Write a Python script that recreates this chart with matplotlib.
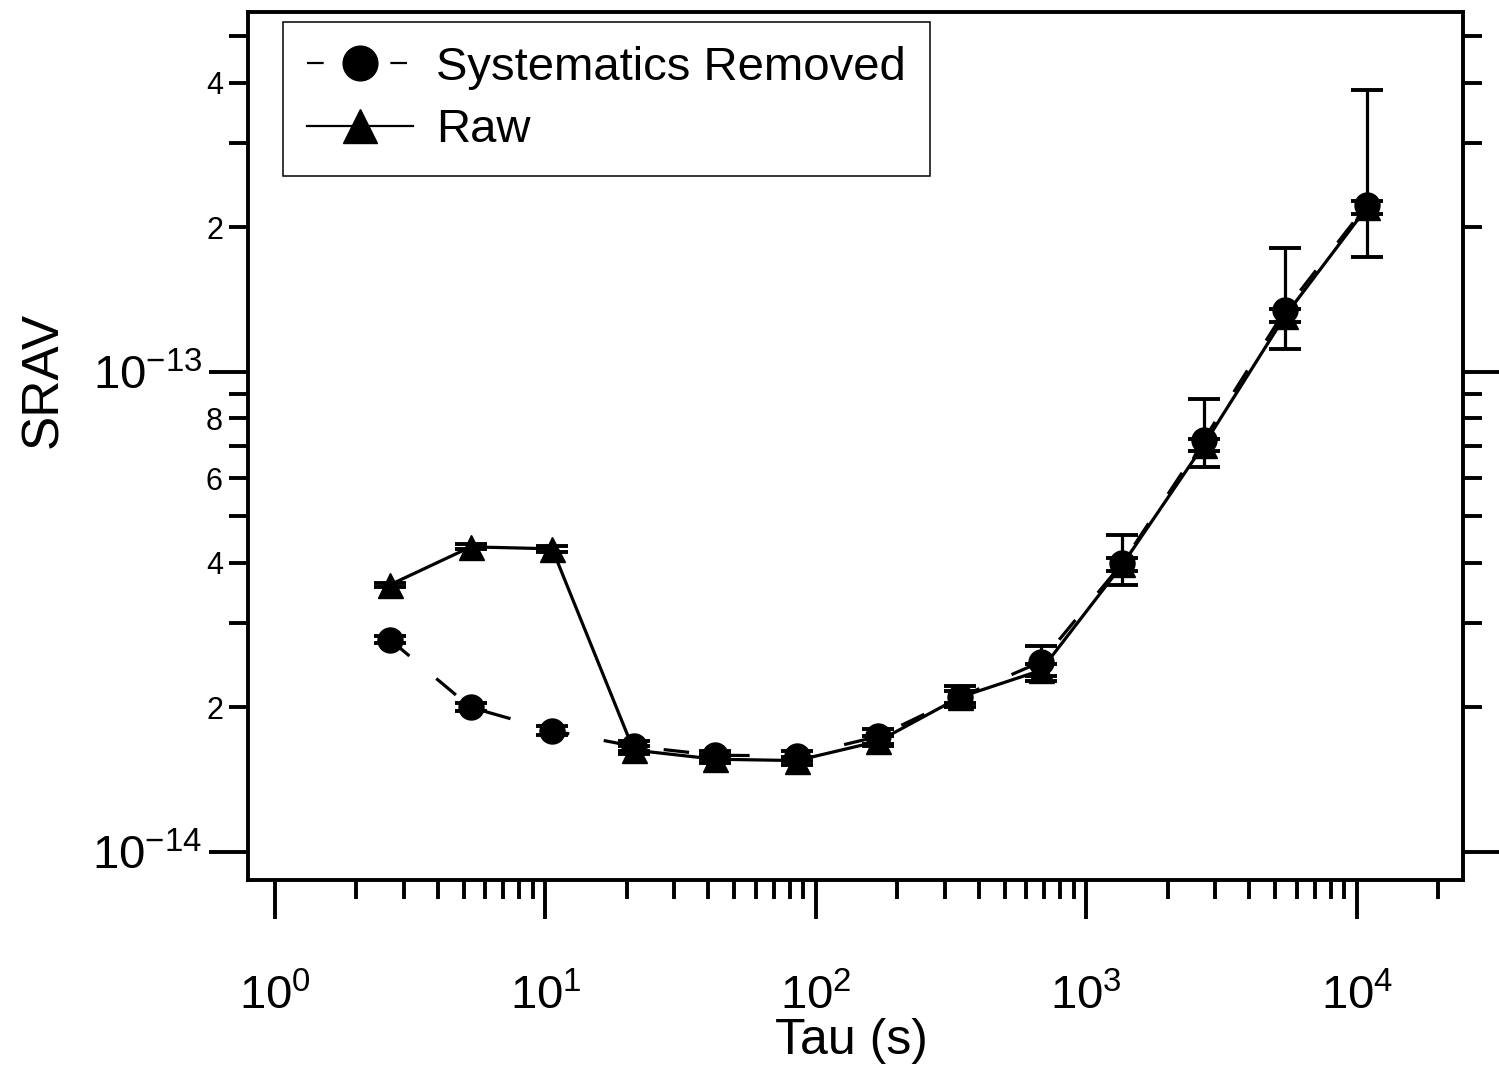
import numpy as np
import matplotlib
matplotlib.use("Agg")
import matplotlib.pyplot as plt
from matplotlib.ticker import FixedLocator, FuncFormatter, LogFormatterSciNotation, NullFormatter
from matplotlib.lines import Line2D

plt.rcParams['font.family'] = ['Liberation Sans', 'DejaVu Sans']
plt.rcParams['mathtext.fontset'] = 'custom'
plt.rcParams['mathtext.rm'] = 'Liberation Sans'
plt.rcParams['mathtext.it'] = 'Liberation Sans:italic'
plt.rcParams['mathtext.bf'] = 'Liberation Sans:bold'

# averaging time (s)
tau = [2.66, 5.3, 10.6, 21.2, 42.5, 85, 170, 340, 680, 1360, 2720, 5440, 10900]

# SRAV values, units of 1e-14
sys_val = [2.77, 2.00, 1.79, 1.66, 1.59, 1.585, 1.74, 2.10, 2.49, 4.00, 7.22, 13.46, 22.28]
sys_lo = [2.72, 1.97, 1.75, 1.62, 1.56, 1.55, 1.68, 2.00, 2.27, 3.60, 6.34, 11.17, 17.36]
sys_hi = [2.82, 2.04, 1.83, 1.70, 1.62, 1.62, 1.80, 2.22, 2.68, 4.57, 8.78, 18.13, 38.70]

raw_val = [3.60, 4.32, 4.28, 1.63, 1.56, 1.55, 1.70, 2.10, 2.39, 3.97, 7.05, 13.10, 22.00]
raw_lo = [3.56, 4.27, 4.22, 1.60, 1.53, 1.52, 1.66, 2.04, 2.32, 3.85, 6.85, 12.70, 21.30]
raw_hi = [3.64, 4.37, 4.34, 1.66, 1.59, 1.58, 1.74, 2.16, 2.46, 4.09, 7.25, 13.50, 22.70]

s = np.array(sys_val) * 1e-14
r = np.array(raw_val) * 1e-14
s_err = [s - np.array(sys_lo) * 1e-14, np.array(sys_hi) * 1e-14 - s]
r_err = [r - np.array(raw_lo) * 1e-14, np.array(raw_hi) * 1e-14 - r]

fig = plt.figure(figsize=(14.99, 10.77), dpi=100)
ax = fig.add_axes([0.1654, 0.1829, 0.8105, 0.806])

ax.errorbar(tau, r, yerr=r_err, fmt='none', ecolor='k', elinewidth=2.3, capsize=11.5, capthick=2.8)
ax.plot(tau, r, '-', color='k', lw=2.3, marker='^', ms=18)
ax.errorbar(tau, s, yerr=s_err, fmt='none', ecolor='k', elinewidth=2.3, capsize=11.5, capthick=2.8)
ax.plot(tau, s, color='k', lw=2.3, dashes=(8, 11), marker='o', ms=18)

ax.set_xscale('log')
ax.set_yscale('log')
ax.set_xlim(0.795, 24660)
ax.set_ylim(8.74e-15, 5.62e-13)

ax.xaxis.set_major_locator(FixedLocator([1, 10, 100, 1000, 10000]))
ax.xaxis.set_major_formatter(LogFormatterSciNotation())
xminor = [m * 10.0 ** k for k in range(0, 4) for m in range(2, 10)] + [2e4]
ax.xaxis.set_minor_locator(FixedLocator(xminor))
ax.xaxis.set_minor_formatter(NullFormatter())

ax.yaxis.set_major_locator(FixedLocator([1e-14, 1e-13]))
ax.yaxis.set_major_formatter(LogFormatterSciNotation())
yminor = [m * 1e-14 for m in range(2, 10)] + [m * 1e-13 for m in range(2, 6)]
ax.yaxis.set_minor_locator(FixedLocator(yminor))


def minor_lab(v, pos):
    m = int(round(v / 10 ** np.floor(np.log10(v))))
    return str(m) if m in (2, 4, 6, 8) else ''


ax.yaxis.set_minor_formatter(FuncFormatter(minor_lab))

for sp in ax.spines.values():
    sp.set_linewidth(2.8)

ax.tick_params(which='major', direction='out', length=28, width=2.8)
ax.tick_params(which='minor', direction='out', length=14, width=2.8)
ax.tick_params(axis='y', which='both', left=True, right=True, labelright=False)
ax.tick_params(axis='x', which='major', labelsize=34, pad=40)
ax.tick_params(axis='y', which='major', labelsize=34, pad=5)
ax.tick_params(axis='y', which='minor', labelsize=22, pad=4)

ax.set_xlabel('Tau (s)', fontsize=36)
ax.xaxis.set_label_coords(0.497, -0.159)
ax.set_ylabel('SRAV', fontsize=37)
ax.yaxis.set_label_coords(-0.148, 0.576)

h_sys = Line2D([], [], color='k', lw=1.6, dashes=(7.5, 30), marker='o', ms=25)
h_raw = Line2D([], [], color='k', lw=1.6, marker='^', ms=24)
leg = ax.legend([h_sys, h_raw], ['Systematics Removed', 'Raw'], loc='upper left',
                bbox_to_anchor=(0.0288, 0.9885), borderaxespad=0, fontsize=34,
                handlelength=2.25, handletextpad=0.5, labelspacing=0.4, borderpad=0.5,
                fancybox=False, framealpha=1, edgecolor='k')
leg.get_frame().set_linewidth(1.1)

fig.savefig('out.png', dpi=100)
